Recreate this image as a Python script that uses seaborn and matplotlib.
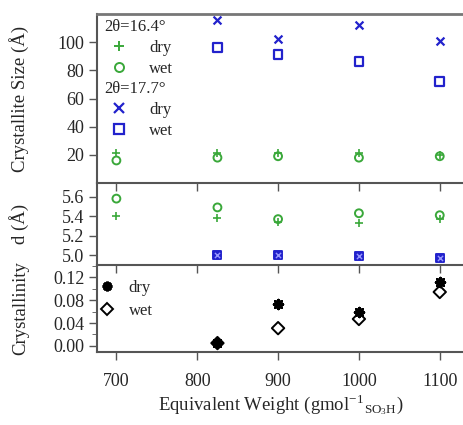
import matplotlib
matplotlib.use("Agg")
import matplotlib.pyplot as plt
import seaborn as sns
import pandas as pd
import numpy as np
from matplotlib.lines import Line2D
from matplotlib.ticker import MultipleLocator

# ---- data ----
ew = [700, 825, 900, 1000, 1100]
ew_177 = [825, 900, 1000, 1100]

size_164_dry = [21, 21, 21, 21, 20]
size_164_wet = [16, 18, 19, 18, 19]
size_177_dry = [116, 102, 112, 101]
size_177_wet = [96, 91, 86, 72]

d_164_dry = [5.40, 5.38, 5.34, 5.33, 5.37]
d_164_wet = [5.58, 5.49, 5.37, 5.43, 5.41]
d_177_dry = [5.00, 5.00, 4.99, 4.97]
d_177_wet = [5.00, 5.00, 4.99, 4.97]

cryst_dry = [0.005, 0.073, 0.059, 0.111]
cryst_wet = [0.005, 0.031, 0.047, 0.094]

xticks = [700, 800, 900, 1000, 1100]

# ---- style ----
sns.set_style("ticks")
plt.rcParams['font.family'] = ['Liberation Serif', 'DejaVu Serif']
plt.rcParams['mathtext.fontset'] = 'stix'

GREEN = '#3aa83a'
BLUE = '#2222cc'
SPINE = '#555555'
FS = 13

fig = plt.figure(figsize=(4.64, 4.25), dpi=100)
W, H = 464, 425
def rect(x0, y0, x1, y1):
    return [x0 / W, 1 - y1 / H, (x1 - x0) / W, (y1 - y0) / H]

ax1 = fig.add_axes(rect(97, 14, 464, 183))
ax2 = fig.add_axes(rect(97, 183, 464, 265))
ax3 = fig.add_axes(rect(97, 265, 464, 352))

def scat(ax, x, y, marker, color, filled=False, s=40, lw=1.4, **kw):
    df = pd.DataFrame({'x': x, 'y': y})
    if marker in ('+', 'x') or isinstance(marker, tuple):
        sns.scatterplot(data=df, x='x', y='y', ax=ax, marker=marker, color=color,
                        s=s, linewidth=lw, zorder=3, **kw)
    else:
        sns.scatterplot(data=df, x='x', y='y', ax=ax, marker=marker,
                        facecolor=color if filled else 'none', edgecolor=color,
                        s=s, linewidth=lw, zorder=3, **kw)

# top panel
scat(ax1, ew, size_164_dry, '+', GREEN, s=40, lw=1.2)
scat(ax1, ew, size_164_wet, 'o', GREEN, s=32)
scat(ax1, ew_177, size_177_dry, 'x', BLUE, s=32, lw=1.6)
scat(ax1, ew_177, size_177_wet, 's', BLUE, s=40, lw=1.6)

# middle panel
scat(ax2, ew, d_164_dry, '+', GREEN, s=40, lw=1.2)
scat(ax2, ew, d_164_wet, 'o', GREEN, s=32)
scat(ax2, ew_177, d_177_wet, 's', BLUE, filled=True, s=40, lw=1.4)
scat(ax2, ew_177, d_177_dry, 'x', '#9999ff', s=14, lw=1.0)

# bottom panel
scat(ax3, ew_177, cryst_wet, 'D', 'black', s=40, lw=1.4)
scat(ax3, ew_177, cryst_dry, (8, 2, 0), 'black', s=40, lw=2.0)

for ax in (ax1, ax2, ax3):
    ax.set_xlim(676, 1130)
    ax.set_xticks(xticks)
    ax.set_xlabel('')
    ax.set_ylabel('')
    for side in ('top', 'right'):
        ax.spines[side].set_visible(False)
    for side in ('left', 'bottom'):
        ax.spines[side].set_color(SPINE)
        ax.spines[side].set_linewidth(1.5)
    ax.tick_params(axis='both', which='major', direction='out', length=6, width=1.0,
                   color=SPINE, labelsize=FS, pad=3)
    ax.tick_params(axis='x', pad=9)
    ax.patch.set_alpha(0)

ax1.spines['top'].set_visible(True)
ax1.spines['top'].set_color('#777777')
ax1.spines['top'].set_linewidth(2)

ax1.set_ylim(0, 120)
ax1.set_yticks([20, 40, 60, 80, 100])
ax2.set_ylim(4.9, 5.74)
ax2.set_yticks([5.0, 5.2, 5.4, 5.6])
ax2.yaxis.set_major_formatter(matplotlib.ticker.FormatStrFormatter('%.1f'))
ax3.set_ylim(-0.0105, 0.141)
ax3.set_yticks([0.00, 0.04, 0.08, 0.12])
ax3.yaxis.set_major_formatter(matplotlib.ticker.FormatStrFormatter('%.2f'))
ax3.yaxis.set_minor_locator(MultipleLocator(0.02))
ax3.tick_params(axis='y', which='minor', direction='out', length=3.5, color=SPINE)

ax1.tick_params(axis='x', labelbottom=False)
ax2.tick_params(axis='x', labelbottom=False)

ax1.set_ylabel('Crystallite Size (Å)', fontsize=FS + 0.5)
ax2.set_ylabel('d (Å)', fontsize=FS + 0.5)
ax3.set_ylabel('Crystallinity', fontsize=FS + 0.5)
for ax in (ax1, ax2, ax3):
    ax.yaxis.set_label_coords(-0.185, 0.5)

ax3.set_xlabel(r'Equivalent Weight (gmol$^{\mathregular{-1}}$$_{\mathregular{SO_3H}}$)',
               fontsize=FS + 0.5, labelpad=2)

# legends
def h(marker, color, filled=False, ms=7, mew=1.4):
    return Line2D([], [], linestyle='none', marker=marker, color=color,
                  markerfacecolor=color if filled else 'none',
                  markeredgecolor=color, markersize=ms, markeredgewidth=mew)

leg_kw = dict(frameon=False, fontsize=FS - 1, title_fontsize=FS - 1, alignment='left',
              handlelength=1.8, handletextpad=0.9, labelspacing=0.3, borderpad=0.0,
              borderaxespad=0.0, loc='upper left')
l1 = ax1.legend(handles=[h('+', GREEN), h('o', GREEN, ms=6.5)], labels=['dry', 'wet'],
                title='2θ=16.4°', bbox_to_anchor=(0.02, 0.97), **leg_kw)
ax1.add_artist(l1)
l2 = ax1.legend(handles=[h('x', BLUE, mew=1.6), h('s', BLUE, ms=7, mew=1.6)],
                labels=['dry', 'wet'], title='2θ=17.7°', bbox_to_anchor=(0.02, 0.605), **leg_kw)

ax3.legend(handles=[h((8, 2, 0), 'black', ms=7, mew=2.0), h('D', 'black', ms=6.5)],
           labels=['dry', 'wet'], frameon=False, fontsize=FS - 1, loc='upper left',
           bbox_to_anchor=(0.0, 0.83), handlelength=1.2, handletextpad=0.7,
           labelspacing=0.45, borderpad=0.0, borderaxespad=0.0)

fig.savefig('out.png', dpi=100)
